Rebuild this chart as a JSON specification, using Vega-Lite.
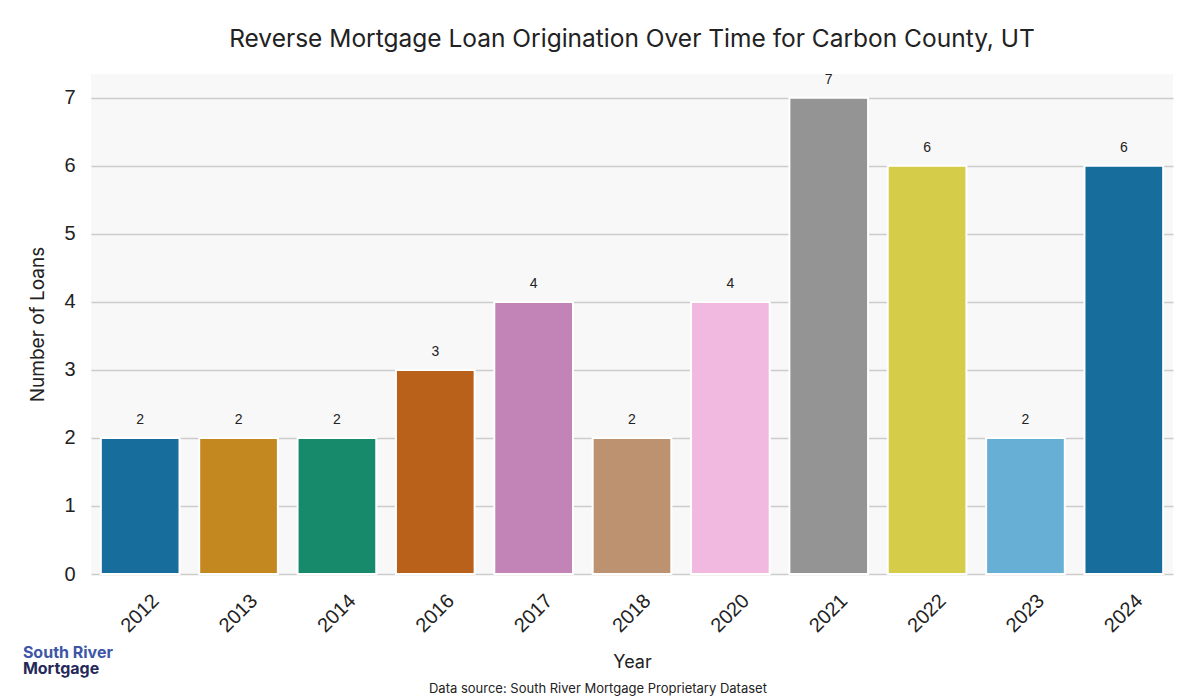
{
  "$schema": "https://vega.github.io/schema/vega-lite/v6.json",
  "background": "white",
  "padding": {"left": 22, "top": 27, "right": 5, "bottom": 5},
  "config": {
    "view": {"fill": "#f8f8f8", "stroke": null},
    "concat": {"spacing": 0}
  },
  "title": {
    "text": "Data source: South River Mortgage Proprietary Dataset",
    "orient": "bottom",
    "anchor": "middle",
    "font": "Inter",
    "fontSize": 13,
    "fontWeight": "normal",
    "color": "#222222",
    "offset": 6
  },
  "vconcat": [
    {
      "title": {
        "text": "South River",
        "subtitle": "Mortgage",
        "orient": "bottom",
        "anchor": "start",
        "font": "Inter",
        "fontSize": 16,
        "fontWeight": "bold",
        "color": "#3d56a6",
        "subtitleFont": "Inter",
        "subtitleFontSize": 16,
        "subtitleFontWeight": "bold",
        "subtitleColor": "#25295a",
        "subtitlePadding": 0,
        "offset": -27,
        "dx": -6
      },
      "vconcat": [
        {
          "title": {
            "text": "Reverse Mortgage Loan Origination Over Time for Carbon County, UT",
            "font": "Inter",
            "fontSize": 24.5,
            "fontWeight": "normal",
            "color": "#222222",
            "anchor": "middle",
            "frame": "group",
            "offset": 20
          },
          "width": 1082,
          "height": 500,
          "data": {
            "values": [
              {"Year": "2012", "Loans": 2},
              {"Year": "2013", "Loans": 2},
              {"Year": "2014", "Loans": 2},
              {"Year": "2016", "Loans": 3},
              {"Year": "2017", "Loans": 4},
              {"Year": "2018", "Loans": 2},
              {"Year": "2020", "Loans": 4},
              {"Year": "2021", "Loans": 7},
              {"Year": "2022", "Loans": 6},
              {"Year": "2023", "Loans": 2},
              {"Year": "2024", "Loans": 6}
            ]
          },
          "encoding": {
            "x": {
              "field": "Year",
              "type": "nominal",
              "sort": null,
              "scale": {"paddingInner": 0.2, "paddingOuter": 0.1},
              "axis": {
                "title": "Year",
                "titleFont": "Inter",
                "titleFontSize": 18,
                "titleFontWeight": "normal",
                "titleColor": "#222222",
                "titlePadding": 18,
                "labelFont": "Liberation Sans",
                "labelFontSize": 20,
                "labelColor": "#222222",
                "labelAngle": -45,
                "labelAlign": "center",
                "labelBaseline": "middle",
                "labelPadding": 39,
                "ticks": false,
                "domain": false,
                "grid": false
              }
            },
            "y": {
              "field": "Loans",
              "type": "quantitative",
              "scale": {"domain": [0, 7.35], "nice": false},
              "axis": {
                "title": "Number of Loans",
                "titleFont": "Inter",
                "titleFontSize": 19,
                "titleFontWeight": "normal",
                "titleColor": "#222222",
                "titlePadding": 16,
                "values": [0, 1, 2, 3, 4, 5, 6, 7],
                "labelFont": "Liberation Sans",
                "labelFontSize": 20,
                "labelColor": "#222222",
                "labelPadding": 16,
                "ticks": false,
                "domain": false,
                "grid": true,
                "gridColor": "#cccccc",
                "gridWidth": 1.5
              }
            }
          },
          "layer": [
            {
              "mark": {"type": "bar", "stroke": "white", "strokeWidth": 2},
              "encoding": {
                "color": {
                  "field": "Year",
                  "type": "nominal",
                  "sort": null,
                  "legend": null,
                  "scale": {
                    "domain": ["2012", "2013", "2014", "2016", "2017", "2018", "2020", "2021", "2022", "2023", "2024"],
                    "range": ["#176d9c", "#c48820", "#168a6a", "#b9611b", "#c283b6", "#bd9270", "#f1b8e0", "#949494", "#d5cc4a", "#68afd6", "#176d9c"]
                  }
                }
              }
            },
            {
              "mark": {
                "type": "text",
                "font": "Liberation Sans",
                "fontSize": 14,
                "color": "#222222",
                "baseline": "alphabetic",
                "dy": -14
              },
              "encoding": {
                "text": {"field": "Loans", "type": "quantitative"}
              }
            }
          ]
        }
      ]
    }
  ]
}
